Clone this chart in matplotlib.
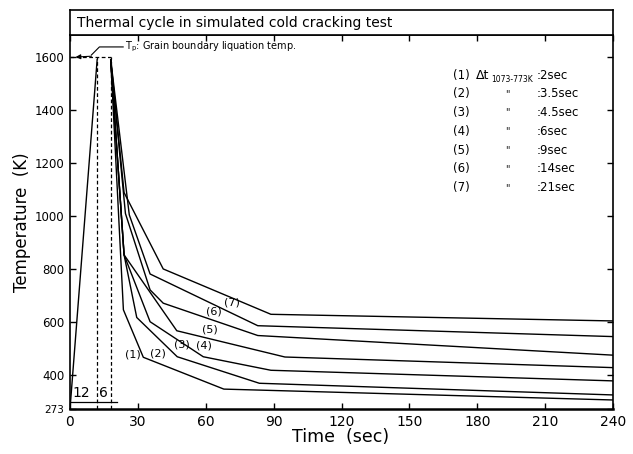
import matplotlib
matplotlib.use("Agg")
import matplotlib.pyplot as plt

# heating part (common to all curves)
heat_t = [0, 12]
heat_T = [273, 1590]

# cooling curves (1)..(7): time (s) and temperature (K) at the corners
cool_t = [
    [18, 23.6, 32.4, 68, 240],
    [18, 23.9, 29.5, 47.4, 83.7, 240],
    [18, 23.9, 35.4, 58.9, 88.8, 240],
    [18, 23.9, 47.2, 95, 240],
    [18, 24.5, 35.4, 41.2, 83, 240],
    [18, 26.2, 35.4, 83, 240],
    [18, 23.9, 41.2, 88.8, 240],
]
cool_T = [
    [1590, 647, 468, 348, 307],
    [1590, 854, 618, 470, 370, 326],
    [1590, 854, 602, 470, 419, 379],
    [1590, 854, 568, 469, 429],
    [1590, 1010, 722, 672, 550, 476],
    [1590, 1005, 782, 587, 546],
    [1590, 1089, 801, 630, 605],
]
curve_names = ["(1)", "(2)", "(3)", "(4)", "(5)", "(6)", "(7)"]
label_t = [27.8, 39.0, 49.4, 59.2, 61.9, 63.8, 71.5]
label_T = [477, 483, 517, 511, 574, 640, 674]

dt_values = ["2sec", "3.5sec", "4.5sec", "6sec", "9sec", "14sec", "21sec"]

x_ticks = [0, 30, 60, 90, 120, 150, 180, 210, 240]
y_ticks = [273, 400, 600, 800, 1000, 1200, 1400, 1600]

fig = plt.figure(figsize=(6.33, 4.54), dpi=100)
ax = fig.add_axes([70 / 633, 1 - 409 / 454, 543 / 633, 374 / 454])
tax = fig.add_axes([70 / 633, 1 - 35 / 454, 543 / 633, 25 / 454])

lw = 1.0
ax.plot(heat_t, heat_T, color="black", lw=lw)
for t, T in zip(cool_t, cool_T):
    ax.plot(t, T, color="black", lw=lw)
for name, t, T in zip(curve_names, label_t, label_T):
    ax.text(t, T, name, fontsize=8, ha="center", va="center")

# peak hold and Tp marking
ax.plot([0, 18], [1600, 1600], color="black", lw=0.9, ls=(0, (3, 2)))
ax.plot([12, 12], [273, 1600], color="black", lw=0.9, ls=(0, (3, 2)))
ax.plot([18, 18], [273, 1600], color="black", lw=0.9, ls=(0, (3, 2)))
ax.plot([23.5, 13.0, 9.5], [1638, 1638, 1608], color="black", lw=0.8)
ax.annotate("", xy=(2.5, 1600), xytext=(9.5, 1603),
            arrowprops=dict(arrowstyle="-|>", color="black", lw=0.8,
                            mutation_scale=7, shrinkA=0, shrinkB=0))
ax.text(24.5, 1640, r"T$_\mathrm{p}$: Grain boundary liquation temp.",
        fontsize=7, ha="left", va="center")

# 12 s / 6 s time marks
ax.plot([0, 20.8], [300, 300], color="black", lw=0.9)
ax.text(5.0, 333, "12", fontsize=10, ha="center", va="center")
ax.text(14.6, 333, "6", fontsize=10, ha="center", va="center")

# Δt list
for i, (name, dt) in enumerate(zip(curve_names, dt_values)):
    y = 0.893 - i * 0.0502
    ax.text(0.705, y, name, transform=ax.transAxes, fontsize=8.5,
            ha="left", va="center")
    if i == 0:
        ax.text(0.748, y, "\u0394t", transform=ax.transAxes, fontsize=9,
                ha="left", va="center")
        ax.text(0.775, y - 0.012, "1073-773K", transform=ax.transAxes,
                fontsize=5.5, ha="left", va="center")
    else:
        ax.text(0.801, y, '"', transform=ax.transAxes, fontsize=7,
                ha="left", va="center")
    ax.text(0.859, y, ":" + dt, transform=ax.transAxes, fontsize=8.5,
            ha="left", va="center")

ax.set_xlim(0, 240)
ax.set_ylim(273, 1683)
ax.set_xticks(x_ticks)
ax.set_yticks(y_ticks)
ax.set_xticklabels([str(v) for v in x_ticks], fontsize=10)
ax.set_yticklabels([str(v) for v in y_ticks], fontsize=8.5)
ax.get_yticklabels()[0].set_fontsize(7.5)
ax.tick_params(direction="in", top=True, right=True, length=4, width=1,
               pad=4)
for s in ax.spines.values():
    s.set_linewidth(1.2)
ax.spines["bottom"].set_linewidth(1.8)

tax.set_xticks([])
tax.set_yticks([])
for s in tax.spines.values():
    s.set_linewidth(1.2)
tax.text(0.013, 0.5, "Thermal cycle in simulated cold cracking test",
         transform=tax.transAxes, fontsize=10, ha="left", va="center")

fig.text(22 / 633, 1 - 222 / 454, "Temperature  (K)", rotation=90,
         fontsize=12, ha="center", va="center")
fig.text(341 / 633, 1 - 437 / 454, "Time  (sec)", fontsize=12.5,
         ha="center", va="center")

fig.savefig("out.png", dpi=100)
